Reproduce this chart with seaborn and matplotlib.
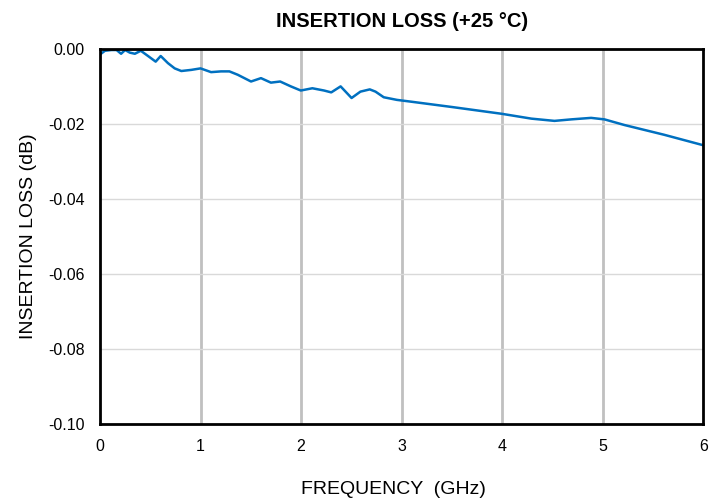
import pandas as pd
import matplotlib.pyplot as plt
import seaborn as sns

# Значения
freq_ghz = [0.01, 0.05, 0.115, 0.165, 0.21, 0.25, 0.297, 0.347, 0.406, 0.478,
            0.554, 0.604, 0.676, 0.743, 0.809, 0.908, 1.0, 1.105, 1.204, 1.287,
            1.37, 1.502, 1.601, 1.70, 1.792, 1.898, 1.997, 2.112, 2.228, 2.30,
            2.393, 2.502, 2.59, 2.683, 2.74, 2.822, 2.953, 3.10, 3.5, 3.993,
            4.29, 4.52, 4.686, 4.884, 5.017, 5.215, 5.61, 6.0]
loss_db = [-0.0013, -0.0005, -0.0003, -0.0003, -0.0013, -0.0003, -0.0010, -0.0013, -0.0005, -0.0019,
           -0.0034, -0.0019, -0.0038, -0.0052, -0.0059, -0.0056, -0.0052, -0.0062, -0.0060, -0.0060,
           -0.0069, -0.0087, -0.0078, -0.0090, -0.0087, -0.0100, -0.0111, -0.0105, -0.0111, -0.0116,
           -0.0100, -0.0131, -0.0114, -0.0108, -0.0114, -0.0129, -0.0136, -0.0141, -0.0155, -0.0173,
           -0.0186, -0.0192, -0.0188, -0.0184, -0.0188, -0.0203, -0.0229, -0.0257]

x_ticks = [0, 1, 2, 3, 4, 5, 6]
y_ticks = [0.00, -0.02, -0.04, -0.06, -0.08, -0.10]

df = pd.DataFrame({'freq': freq_ghz, 'loss': loss_db})

sns.set_style('white')
plt.rcParams['font.family'] = ['Liberation Sans', 'DejaVu Sans']
plt.rcParams['text.color'] = 'black'
plt.rcParams['axes.labelcolor'] = 'black'
plt.rcParams['xtick.color'] = 'black'
plt.rcParams['ytick.color'] = 'black'

fig = plt.figure(figsize=(7.09, 5.04), dpi=100)
ax = fig.add_axes([0.141, 0.159, 0.851, 0.744])

sns.lineplot(data=df, x='freq', y='loss', color='#0070C0', linewidth=1.8, ax=ax)
ax.lines[0].set_solid_joinstyle('round')

ax.set_xlim(0, 6)
ax.set_ylim(-0.10, 0.0)
ax.set_xticks(x_ticks)
ax.set_yticks(y_ticks)
ax.set_yticklabels([f'{v:.2f}' for v in y_ticks])

# Сетка: вертикальные линии толще и темнее
for xv in x_ticks[1:-1]:
    ax.axvline(xv, color='#c0c0c0', linewidth=2, zorder=0)
for yv in y_ticks[1:-1]:
    ax.axhline(yv, color='#d9d9d9', linewidth=1, zorder=0)

for s in ax.spines.values():
    s.set_color('black')
    s.set_linewidth(2)

ax.tick_params(length=0, labelsize=11.5)
ax.tick_params(axis='x', pad=11)
ax.tick_params(axis='y', pad=11)
ax.set_xlabel('FREQUENCY  (GHz)', fontsize=14)
ax.xaxis.set_label_coords(0.486, -0.152)
ax.set_ylabel('INSERTION LOSS (dB)', fontsize=14, labelpad=8)
ax.set_title('INSERTION LOSS (+25 °C)', fontsize=14.5, fontweight='bold', pad=16)

fig.savefig('out.png', dpi=100)
